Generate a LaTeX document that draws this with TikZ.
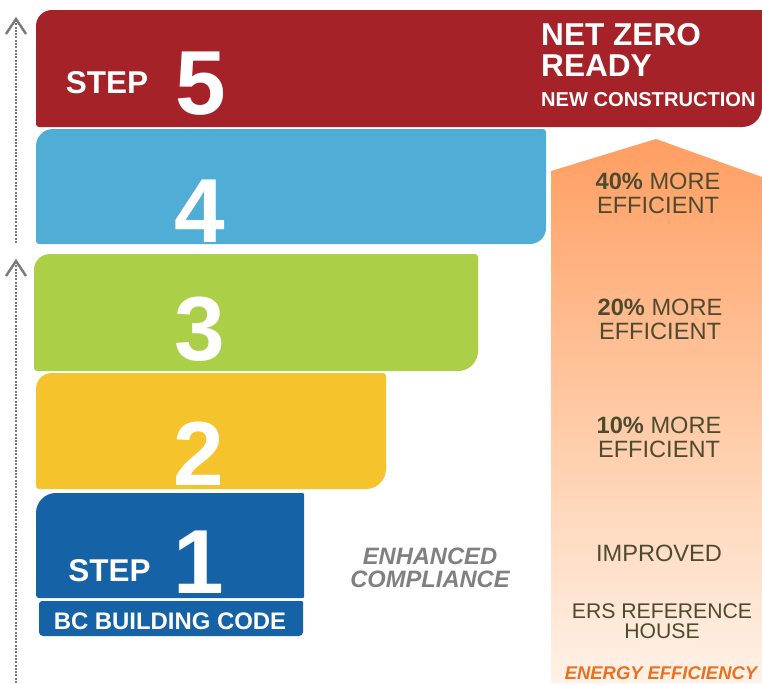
\documentclass[tikz,border=0pt]{standalone}
\usepackage{fontspec}
\setmainfont{Liberation Sans}
\definecolor{stepred}{HTML}{A52228}
\definecolor{stepsky}{HTML}{50ADD5}
\definecolor{stepgreen}{HTML}{ABCF47}
\definecolor{stepyellow}{HTML}{F5C32B}
\definecolor{stepblue}{HTML}{1562A6}
\definecolor{effdark}{HTML}{4D4B2F}
\definecolor{efforange}{HTML}{E8701F}
\definecolor{enhgray}{HTML}{808080}
\definecolor{dotgray}{HTML}{7A7A7A}
\definecolor{arrtop}{HTML}{FF9E62}
\definecolor{arrmid}{HTML}{FFC9A4}
\definecolor{arrbot}{HTML}{FFF2E8}
% colour, x0, y0, x1, y1, radius TL, TR, BR, BL
\newcommand{\stepshape}[9]{%
  \fill[#1] (#2,#3+#6) arc[start angle=180,end angle=270,radius=#6]
    -- (#4-#7,#3) arc[start angle=270,end angle=360,radius=#7]
    -- (#4,#5-#8) arc[start angle=0,end angle=90,radius=#8]
    -- (#2+#9,#5) arc[start angle=90,end angle=180,radius=#9] -- cycle;}
\tikzset{
  numtxt/.style={text=white, font=\fontsize{91}{91}\selectfont\bfseries, inner sep=0pt, anchor=base},
  steplbl/.style={text=white, font=\fontsize{31.5}{32}\selectfont\bfseries, inner sep=0pt, anchor=base},
  nzbig/.style={text=white, font=\fontsize{31.6}{32}\selectfont\bfseries, inner sep=0pt, anchor=base west},
  nzsmall/.style={text=white, font=\fontsize{20.1}{21}\selectfont\bfseries, inner sep=0pt, anchor=base west},
  codelbl/.style={text=white, font=\fontsize{23.9}{24}\selectfont\bfseries, inner sep=0pt, anchor=base},
  efftxt/.style={text=effdark, font=\fontsize{23.6}{24}\selectfont, inner sep=0pt, anchor=base},
  ersstyle/.style={text=effdark, font=\fontsize{21.2}{22}\selectfont, inner sep=0pt, anchor=base},
  enhtxt/.style={text=enhgray, font=\fontsize{23.7}{24}\selectfont\bfseries\itshape, inner sep=0pt, anchor=base},
  energytxt/.style={text=efforange, font=\fontsize{18.4}{19}\selectfont\bfseries\itshape, inner sep=0pt, anchor=base},
  dotline/.style={draw=dotgray, line width=2.6pt, dash pattern=on 2pt off 1.3pt},
  chev/.style={draw=dotgray, line width=2.4pt, line join=miter}
}
\begin{document}
\begin{tikzpicture}[x=1pt,y=-1pt]
\useasboundingbox[fill=white] (0,0) rectangle (762,683);
% energy efficiency arrow
\shade[top color=arrtop, bottom color=arrbot, middle color=arrmid]
  (551,683) -- (551,171) -- (656,139) -- (762,177) -- (762,683) -- cycle;
% step boxes
\stepshape{stepred}{36}{10}{762}{127}{16}{0.5}{20}{3}
\stepshape{stepsky}{36}{129}{546}{244}{17}{3}{16}{3}
\stepshape{stepgreen}{34}{254}{478}{371}{16}{3}{20}{3}
\stepshape{stepyellow}{36}{373}{386}{489}{16}{3}{20}{3}
\stepshape{stepblue}{36}{493}{304}{598}{20}{1}{1}{3}
\stepshape{stepblue}{39}{601}{303}{636}{3}{1}{4}{4}
% left dotted arrows
\coordinate (upA) at (16,243);
\coordinate (upB) at (16,19);
\coordinate (loA) at (16,683);
\coordinate (loB) at (16,261);
\draw[dotline] (upA) -- (upB);
\draw[dotline] (loA) -- (loB);
\draw[chev] (upB) ++(-10,15) -- (upB) -- ++(10,15);
\draw[chev] (loB) ++(-10,15) -- (loB) -- ++(10,15);
% numbers
\node[numtxt] (n5) at (201,114) {5};
\node[numtxt] (n4) at (200,242) {4};
\node[numtxt] (n3) at (200,360) {3};
\node[numtxt] (n2) at (199,485) {2};
\node[numtxt] (n1) at (199,593) {1};
\node[steplbl] (s5) at (107,93) {STEP};
\node[steplbl] (s1) at (109.5,581) {STEP};
\node[codelbl] (bc) at (170,629) {BC BUILDING CODE};
% net zero
\node[nzbig] (nz1) at (541,45) {NET ZERO};
\node[nzbig] (nz2) at (541,76) {READY};
\node[nzsmall] (nz3) at (541,106) {NEW CONSTRUCTION};
% enhanced compliance
\node[enhtxt] (enh1) at (430,564) {ENHANCED};
\node[enhtxt] (enh2) at (430,587) {COMPLIANCE};
% efficiency texts
\node[efftxt] (e40a) at (658,189) {\textbf{40\%} MORE};
\node[efftxt] (e40b) at (658,213) {EFFICIENT};
\node[efftxt] (e20a) at (660,315) {\textbf{20\%} MORE};
\node[efftxt] (e20b) at (660,339) {EFFICIENT};
\node[efftxt] (e10a) at (659,433) {\textbf{10\%} MORE};
\node[efftxt] (e10b) at (659,457) {EFFICIENT};
\node[efftxt] (imp) at (659,561) {IMPROVED};
\node[ersstyle] (ers1) at (662,618) {ERS REFERENCE};
\node[ersstyle] (ers2) at (662,638) {HOUSE};
\node[energytxt] (ee) at (661,679.5) {ENERGY EFFICIENCY};
\end{tikzpicture}
\end{document}
